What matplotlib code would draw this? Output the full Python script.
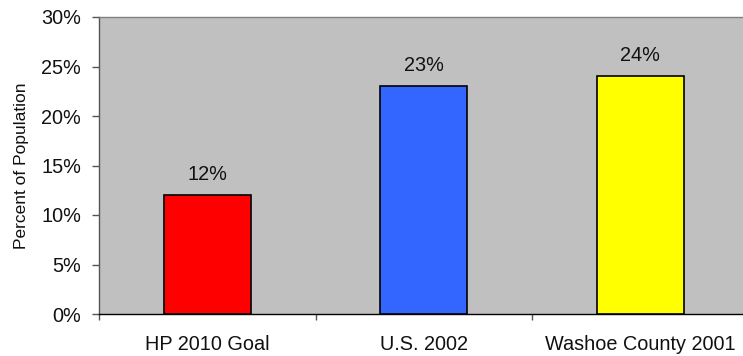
import matplotlib.pyplot as plt
from matplotlib.ticker import FuncFormatter, FixedLocator

# === Data ===
categories = ["HP 2010 Goal", "U.S. 2002", "Washoe County 2001"]
values = [12, 23, 24]
bar_colors = ["#FF0000", "#3366FF", "#FFFF00"]

plt.rcParams['font.family'] = ['Liberation Sans', 'DejaVu Sans']

fig = plt.figure(figsize=(7.43, 3.56), dpi=100)
# plot area runs past the right edge, as in the original
ax = fig.add_axes([99 / 743, 42 / 356, 649.5 / 743, 297 / 356])
ax.set_facecolor("#C0C0C0")

x = list(range(len(categories)))
bars = ax.bar(x, values, width=0.4, color=bar_colors, edgecolor="black", linewidth=1.2, zorder=3)

for xi, v in zip(x, values):
    ax.annotate(f"{v}%", (xi, v), xytext=(0, 8), textcoords="offset points",
                ha="center", va="bottom", fontsize=14.3, color="#111111")

ax.set_xlim(-0.5, len(categories) - 0.5)
ax.set_ylim(0, 30)
ax.set_yticks(range(0, 31, 5))
ax.yaxis.set_major_formatter(FuncFormatter(lambda v, p: f"{int(v)}%"))

# category labels centred, tick marks at category boundaries
ax.set_xticks(x)
ax.set_xticklabels(categories, fontsize=14.3, color="#111111")
ax.tick_params(axis="x", which="major", length=0, pad=15)
ax.xaxis.set_minor_locator(FixedLocator([i - 0.5 for i in range(len(categories) + 1)]))
ax.tick_params(axis="x", which="minor", length=4.5, width=1, color="#555555", direction="out")
ax.tick_params(axis="y", labelsize=14.3, labelcolor="#111111", length=5, width=1, color="#555555", pad=8)

ax.set_ylabel("Percent of Population", fontsize=12.5, labelpad=9, color="#111111")

for side in ["top", "right"]:
    ax.spines[side].set_color("#808080")
ax.spines["left"].set_color("#555555")
ax.spines["bottom"].set_color("black")
for s in ax.spines.values():
    s.set_linewidth(1)

fig.savefig("out.png", dpi=100)
